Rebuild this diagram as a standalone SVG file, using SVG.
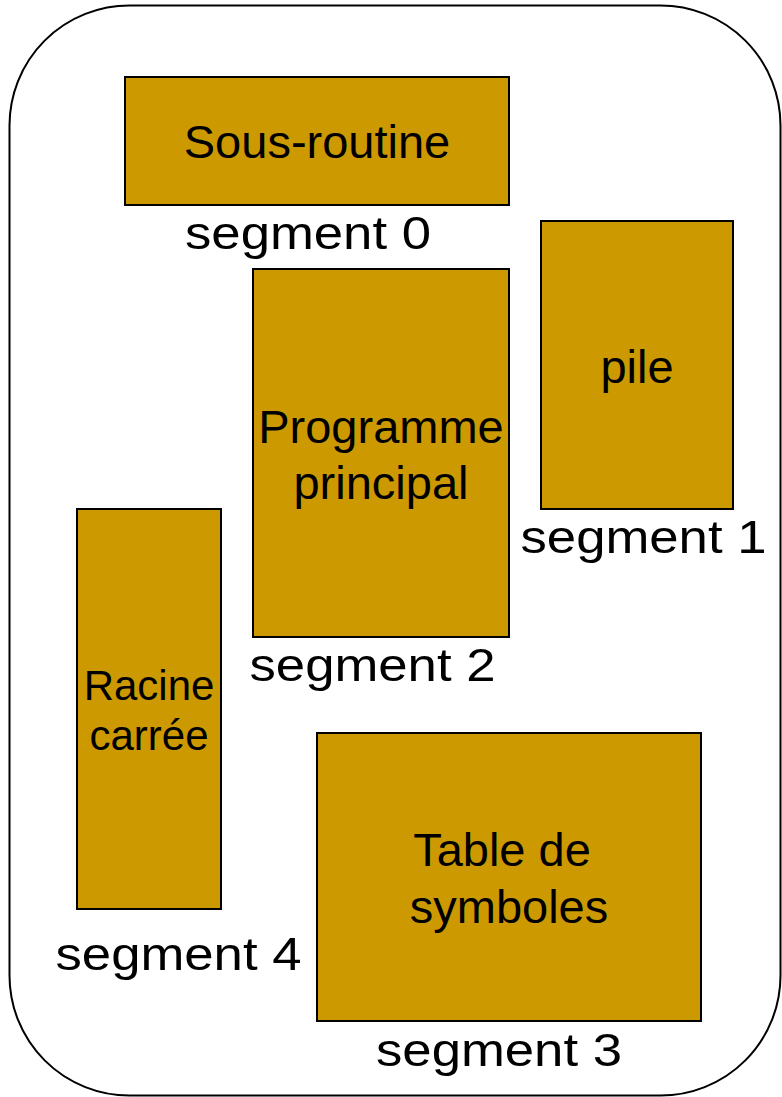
<svg xmlns="http://www.w3.org/2000/svg" width="782" height="1097" viewBox="0 0 782 1097">
<style>
.frame{fill:#FFFFFF;stroke:#000000;stroke-width:2}
.seg{fill:#CC9900;stroke:#000000;stroke-width:2}
.t{font-family:"Liberation Sans",Arial,sans-serif;font-size:47px;fill:#000000;text-anchor:middle}
.t2{font-family:"Liberation Sans",Arial,sans-serif;font-size:42px;fill:#000000;text-anchor:middle}
.lbl{font-family:"Liberation Sans",Arial,sans-serif;font-size:47px;fill:#000000}
</style>
<rect width="782" height="1097" fill="#FFFFFF"/>
<g id="memory">
<rect class="frame" x="9.5" y="5.5" width="771" height="1090" rx="120" ry="120"/>
</g>
<g id="connectors"></g>
<g id="node-sous-routine">
<rect class="seg" x="125" y="77" width="384" height="128"/>
<text class="t" x="317" y="158">Sous-routine</text>
<text class="lbl" x="185" y="249" textLength="246" lengthAdjust="spacingAndGlyphs">segment 0</text>
</g>
<g id="node-pile">
<rect class="seg" x="541" y="221" width="192" height="288"/>
<text class="t" x="637" y="383">pile</text>
<text class="lbl" x="520.5" y="553" textLength="246" lengthAdjust="spacingAndGlyphs">segment 1</text>
</g>
<g id="node-programme">
<rect class="seg" x="253" y="269" width="256" height="368"/>
<text class="t" x="381" y="443">Programme</text>
<text class="t" x="381" y="499">principal</text>
<text class="lbl" x="249.5" y="681" textLength="246" lengthAdjust="spacingAndGlyphs">segment 2</text>
</g>
<g id="node-racine">
<rect class="seg" x="77" y="509" width="144" height="400"/>
<text class="t2" x="149" y="700">Racine</text>
<text class="t2" x="149" y="750">carrée</text>
<text class="lbl" x="55.5" y="970" textLength="246" lengthAdjust="spacingAndGlyphs">segment 4</text>
</g>
<g id="node-table">
<rect class="seg" x="317" y="733" width="384" height="288"/>
<text class="t" x="502" y="866">Table de</text>
<text class="t" x="509" y="923">symboles</text>
<text class="lbl" x="376" y="1066" textLength="246" lengthAdjust="spacingAndGlyphs">segment 3</text>
</g>
</svg>
